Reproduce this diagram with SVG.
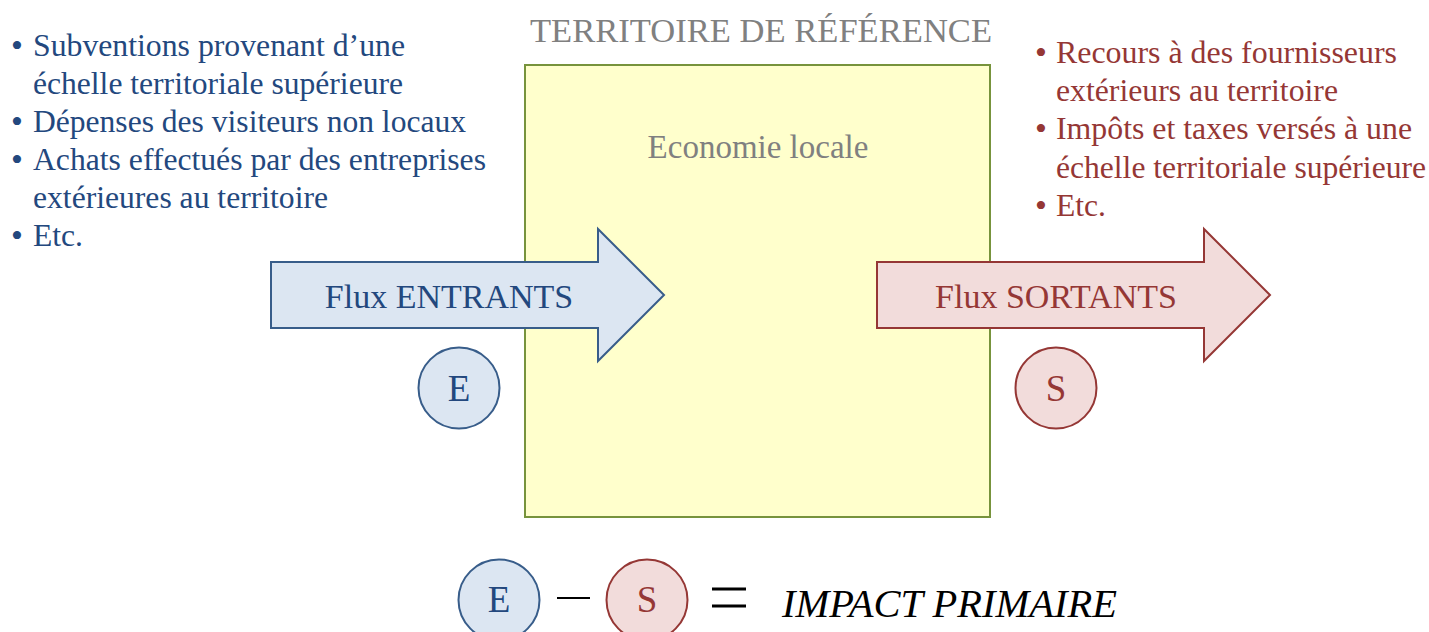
<svg xmlns="http://www.w3.org/2000/svg" width="1429" height="632" viewBox="0 0 1429 632">
<style>
  text { font-family: "Liberation Serif", "Times New Roman", serif; }
  .blue { fill: #23487e; }
  .red { fill: #953735; }
  .gray { fill: #808080; }
  .list { font-size: 31.5px; }
  .bul { font-size: 34px; }
  .bfill { fill: #dce6f2; stroke: #385d8a; stroke-width: 2; }
  .rfill { fill: #f2dcdb; stroke: #953735; stroke-width: 2; }
  .lbl { font-size: 34px; text-anchor: middle; }
  .letter { font-size: 37px; text-anchor: middle; }
</style>
<rect width="1429" height="632" fill="#ffffff"/>

<g id="territoire">
  <text class="gray" x="761" y="42" font-size="33" text-anchor="middle" textLength="462" lengthAdjust="spacingAndGlyphs">TERRITOIRE DE RÉFÉRENCE</text>
  <rect x="525" y="65" width="465" height="452" fill="#ffffcc" stroke="#77933c" stroke-width="2"/>
  <text class="gray" x="758" y="158" font-size="33" text-anchor="middle">Economie locale</text>
</g>

<g id="liste-entrants" class="blue list">
  <text class="bul" x="11" y="57">•</text><text x="33" y="56" textLength="372" lengthAdjust="spacingAndGlyphs">Subventions provenant d’une</text>
  <text x="33" y="94" textLength="370" lengthAdjust="spacingAndGlyphs">échelle territoriale supérieure</text>
  <text class="bul" x="11" y="133">•</text><text x="33" y="132" textLength="433" lengthAdjust="spacingAndGlyphs">Dépenses des visiteurs non locaux</text>
  <text class="bul" x="11" y="171">•</text><text x="33" y="170" textLength="453" lengthAdjust="spacingAndGlyphs">Achats effectués par des entreprises</text>
  <text x="33" y="208" textLength="295" lengthAdjust="spacingAndGlyphs">extérieures au territoire</text>
  <text class="bul" x="11" y="247">•</text><text x="33" y="246" textLength="50" lengthAdjust="spacingAndGlyphs">Etc.</text>
</g>

<g id="liste-sortants" class="red list">
  <text class="bul" x="1035" y="64">•</text><text x="1056" y="63" textLength="341" lengthAdjust="spacingAndGlyphs">Recours à des fournisseurs</text>
  <text x="1056" y="101" textLength="282" lengthAdjust="spacingAndGlyphs">extérieurs au territoire</text>
  <text class="bul" x="1035" y="140">•</text><text x="1056" y="139" textLength="356" lengthAdjust="spacingAndGlyphs">Impôts et taxes versés à une</text>
  <text x="1056" y="178" textLength="370" lengthAdjust="spacingAndGlyphs">échelle territoriale supérieure</text>
  <text class="bul" x="1035" y="217">•</text><text x="1056" y="216" textLength="50" lengthAdjust="spacingAndGlyphs">Etc.</text>
</g>

<g id="flux-entrants">
  <path class="bfill" d="M271,262 L598,262 L598,229 L664,295 L598,361 L598,328 L271,328 Z"/>
  <text class="blue lbl" x="449" y="308">Flux ENTRANTS</text>
</g>

<g id="flux-sortants">
  <path class="rfill" d="M877,262 L1204,262 L1204,229 L1270,295 L1204,361 L1204,328 L877,328 Z"/>
  <text class="red lbl" x="1056" y="308">Flux SORTANTS</text>
</g>

<g id="cercle-E">
  <circle class="bfill" cx="459" cy="388" r="40.5"/>
  <text class="blue letter" x="459" y="401">E</text>
</g>

<g id="cercle-S">
  <circle class="rfill" cx="1056" cy="388" r="40.5"/>
  <text class="red letter" x="1056" y="401">S</text>
</g>

<g id="equation">
  <circle class="bfill" cx="499" cy="600" r="40.5"/>
  <text class="blue letter" x="499" y="612">E</text>
  <line x1="557" y1="598" x2="590" y2="598" stroke="#000" stroke-width="2"/>
  <circle class="rfill" cx="647" cy="600" r="40.5"/>
  <text class="red letter" x="647" y="612">S</text>
  <line x1="712" y1="589" x2="746" y2="589" stroke="#000" stroke-width="3"/>
  <line x1="712" y1="606" x2="746" y2="606" stroke="#000" stroke-width="3"/>
  <text x="782" y="617" font-size="40" font-style="italic" fill="#000" textLength="335" lengthAdjust="spacingAndGlyphs">IMPACT PRIMAIRE</text>
</g>

<g id="connectors"></g>
</svg>
